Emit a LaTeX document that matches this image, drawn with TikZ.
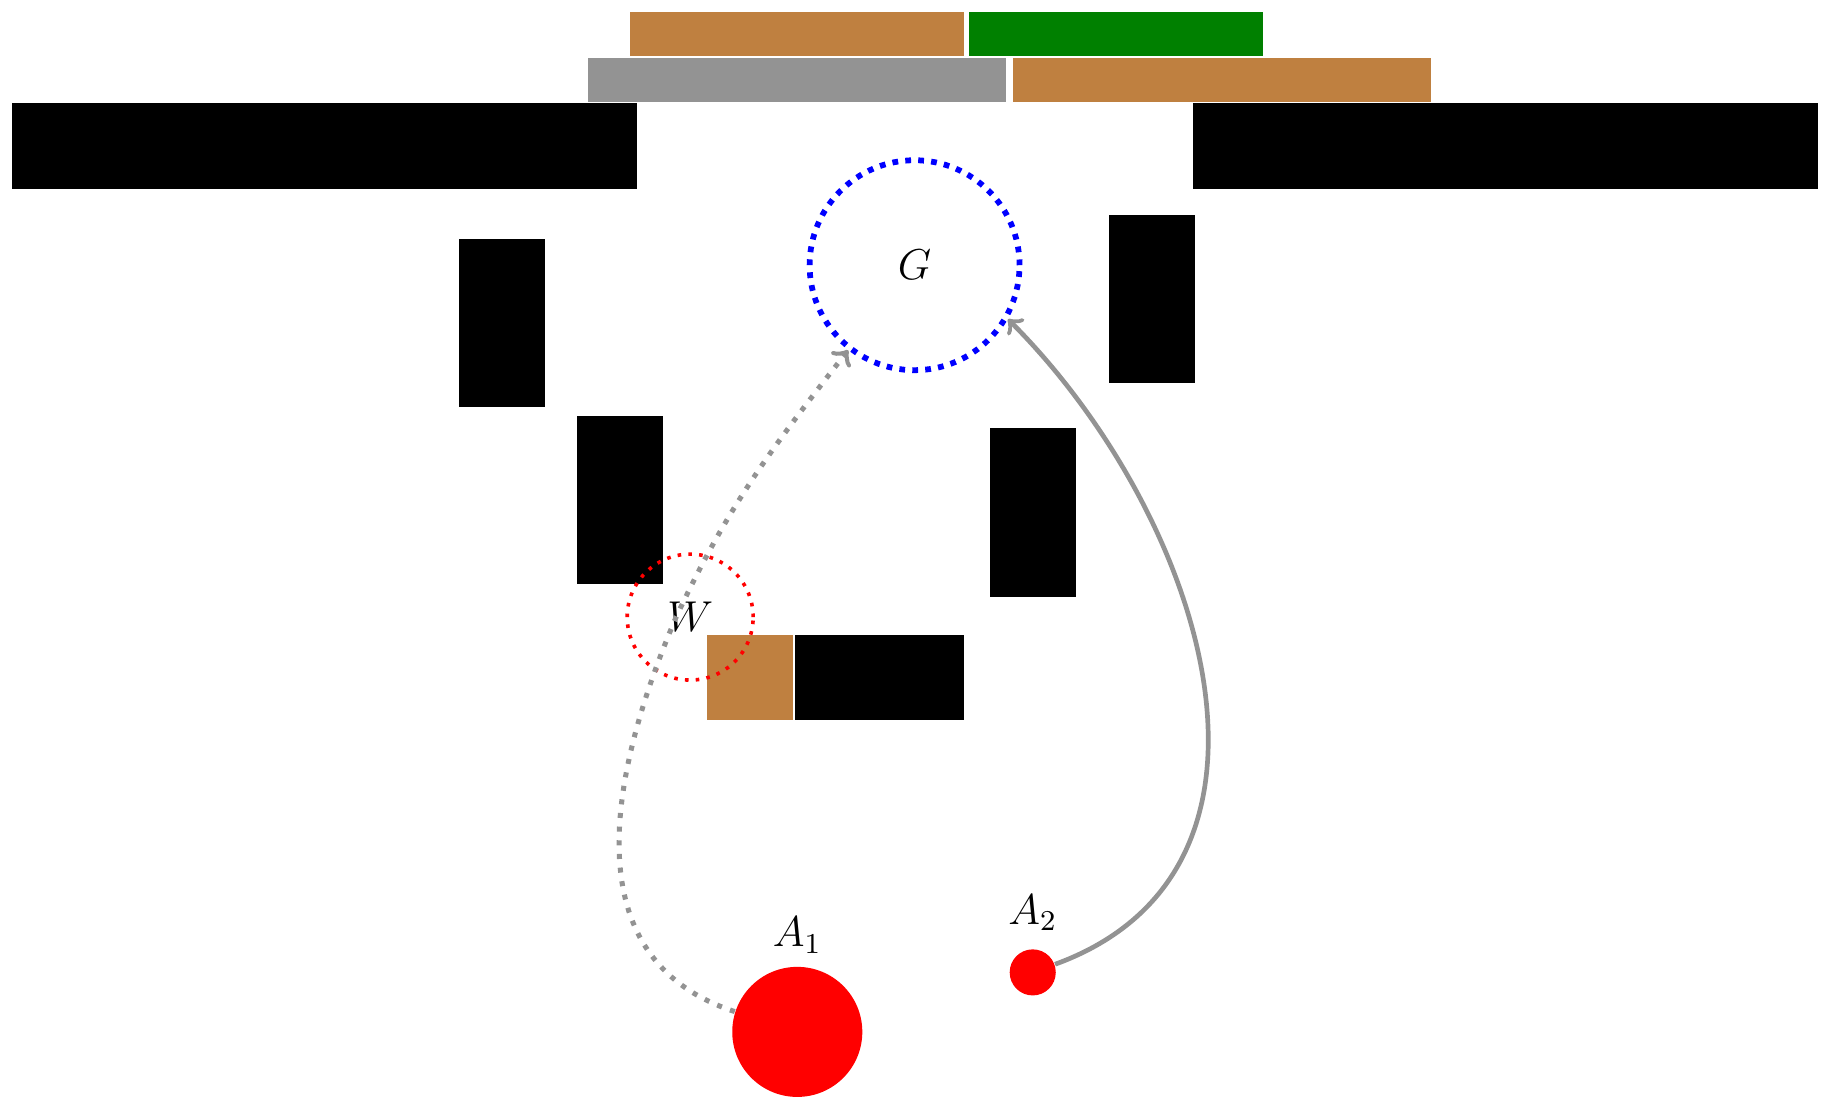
\documentclass[tikz,border=0pt]{standalone}
\usetikzlibrary{arrows}

\begin{document}
\begin{tikzpicture}[x=0.83cm, y=0.83cm,
    goal/.style={circle, draw=blue, ultra thick, dotted, minimum size=2.05cm, inner sep=0pt, font=\large},
    waypt/.style={circle, draw=red, line width=1pt, dotted, minimum size=1.23cm, inner sep=0pt, font=\large},
    agent/.style={circle, fill=red, inner sep=0pt},
    every label/.style={font=\large},
    path1/.style={draw=gray!85, line width=1.4pt, dash pattern=on 1.4pt off 2.4pt, ->},
    path2/.style={draw=gray!85, line width=1.3pt, ->}]
  %\draw[help lines] (0,-13) grid (21,0);
  \useasboundingbox (0,0) rectangle (21.53,-13.05);

  % shelves on top
  \fill[brown] (7.41,-0.14) rectangle (11.34,-0.66);
  \fill[green!50!black] (11.40,-0.14) rectangle (14.86,-0.66);
  \fill[gray!85] (6.92,-0.68) rectangle (11.84,-1.20);
  \fill[brown] (11.92,-0.68) rectangle (16.84,-1.20);

  % walls
  \fill (0.14,-1.21) rectangle (7.49,-2.22);
  \fill (14.04,-1.21) rectangle (21.39,-2.22);
  \foreach \x/\y in {5.40/-2.81, 13.05/-2.53, 6.79/-4.89, 11.65/-5.04}
    \fill (\x,\y) rectangle ++(1.01,-1.98);
  \fill[brown] (8.32,-7.47) rectangle (9.33,-8.47);
  \fill (9.35,-7.47) rectangle (11.34,-8.47);

  \node[goal] (G) at (10.76,-3.12) {$G$};
  \node[waypt] (W) at (8.12,-7.26) {$W$};
  \coordinate (wp) at (7.95,-7.27);

  \node[agent, minimum size=1.27cm, label=above:$A_1$] (A1) at (9.38,-12.14) {};
  \node[agent, minimum size=0.45cm, label={[label distance=1.5pt]above:$A_2$}] (A2) at (12.15,-11.44) {};

  \draw[path1] (A1) to[out=162, in=-113, looseness=1.1] (wp) to[out=65, in=-128] (G);
  \draw[path2] (A2) to[out=20, in=-45, looseness=1.1] (G.-30);
\end{tikzpicture}
\end{document}
